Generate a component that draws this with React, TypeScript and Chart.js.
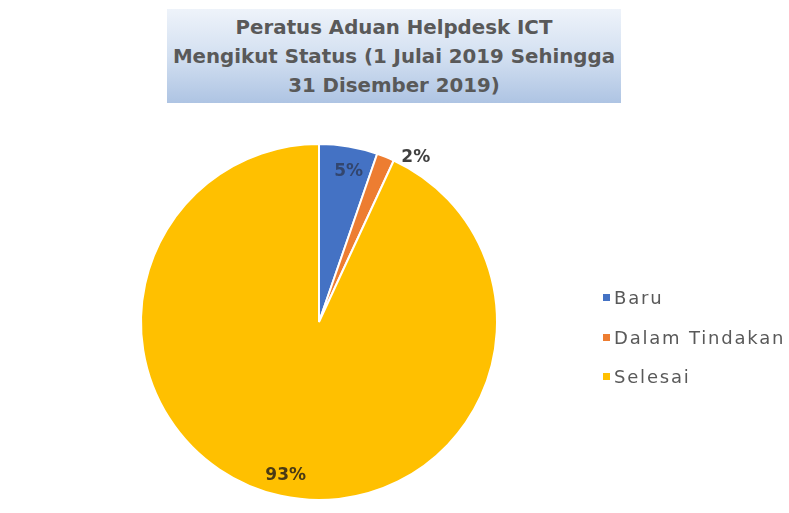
import React, { useEffect, useRef } from "react";
import { Chart, registerables } from "chart.js";

Chart.register(...registerables);

const titleLines = ["Peratus Aduan Helpdesk ICT", "Mengikut Status (1 Julai 2019 Sehingga", "31 Disember 2019)"];
const categories = ["Baru", "Dalam Tindakan", "Selesai"];
const values = [5.3, 1.6, 93.1];
const colors = ["#4472C4", "#ED7D31", "#FFC000"];

const FONT = "'DejaVu Sans', sans-serif";

const labelPlugin = {
  id: "pctLabels",
  afterDatasetsDraw(chart: any) {
    const ctx = chart.ctx;
    const meta = chart.getDatasetMeta(0);
    const total = values.reduce((a, b) => a + b, 0);
    meta.data.forEach((arc: any, i: number) => {
      const { x, y, startAngle, endAngle, outerRadius } = arc.getProps(
        ["x", "y", "startAngle", "endAngle", "outerRadius"],
        true
      );
      const mid = (startAngle + endAngle) / 2;
      const pct = Math.round((values[i] / total) * 100) + "%";
      ctx.save();
      ctx.font = `bold 17px ${FONT}`;
      ctx.textBaseline = "middle";
      const share = values[i] / total;
      if (share < 0.03) {
        const r = outerRadius + 10;
        const px = x + Math.cos(mid) * r;
        const py = y + Math.sin(mid) * r;
        ctx.textAlign = "left";
        ctx.fillStyle = "#404040";
        ctx.fillText(pct, px + 12, py + 10);
      } else {
        const r = outerRadius * 0.87;
        const px = x + Math.cos(mid) * r;
        const py = y + Math.sin(mid) * r;
        ctx.textAlign = "center";
        ctx.fillStyle = i === 0 ? "#33466e" : "#4a3a14";
        ctx.fillText(pct, px + (i === 0 ? 4 : 0), py + 2);
      }
      ctx.restore();
    });
  },
};

export default function App() {
  const ref = useRef<HTMLCanvasElement | null>(null);

  useEffect(() => {
    if (!ref.current) return;
    const chart = new Chart(ref.current, {
      type: "pie",
      data: {
        labels: categories,
        datasets: [
          {
            data: values,
            backgroundColor: colors,
            borderColor: "#ffffff",
            borderWidth: 2,
          },
        ],
      },
      options: {
        responsive: false,
        animation: false,
        layout: { padding: { left: 140, right: 291, top: 143, bottom: 12 } },
        plugins: {
          legend: { display: false },
          title: { display: false },
          tooltip: { enabled: false },
        },
      },
      plugins: [labelPlugin],
    });
    return () => chart.destroy();
  }, []);

  return (
    <div style={{ position: "fixed", left: 0, top: 0, width: 789, height: 513, background: "#fff", overflow: "hidden" }}>
      <canvas ref={ref} width={789} height={513} style={{ position: "absolute", left: 0, top: 0 }} />
      <div
        style={{
          position: "absolute",
          left: 167,
          top: 9,
          width: 454,
          height: 94,
          background: "linear-gradient(to bottom, #eef3fa 0%, #d3e0f1 50%, #aec4e3 100%)",
          display: "flex",
          flexDirection: "column",
          alignItems: "center",
          justifyContent: "center",
          fontFamily: FONT,
          fontWeight: "bold",
          fontSize: 19.8,
          lineHeight: "29px",
          color: "#595959",
          textAlign: "center",
          whiteSpace: "nowrap",
        }}
      >
        {titleLines.map((t, i) => (
          <div key={i}>{t}</div>
        ))}
      </div>
      <div
        style={{
          position: "absolute",
          left: 603,
          top: 278,
          fontFamily: FONT,
          fontSize: 18,
          letterSpacing: 1.8,
          color: "#595959",
          whiteSpace: "nowrap",
        }}
      >
        {categories.map((c, i) => (
          <div key={i} style={{ display: "flex", alignItems: "center", height: 39.5 }}>
            <span style={{ display: "inline-block", width: 7, height: 7, background: colors[i], marginRight: 4 }} />
            <span>{c}</span>
          </div>
        ))}
      </div>
    </div>
  );
}
